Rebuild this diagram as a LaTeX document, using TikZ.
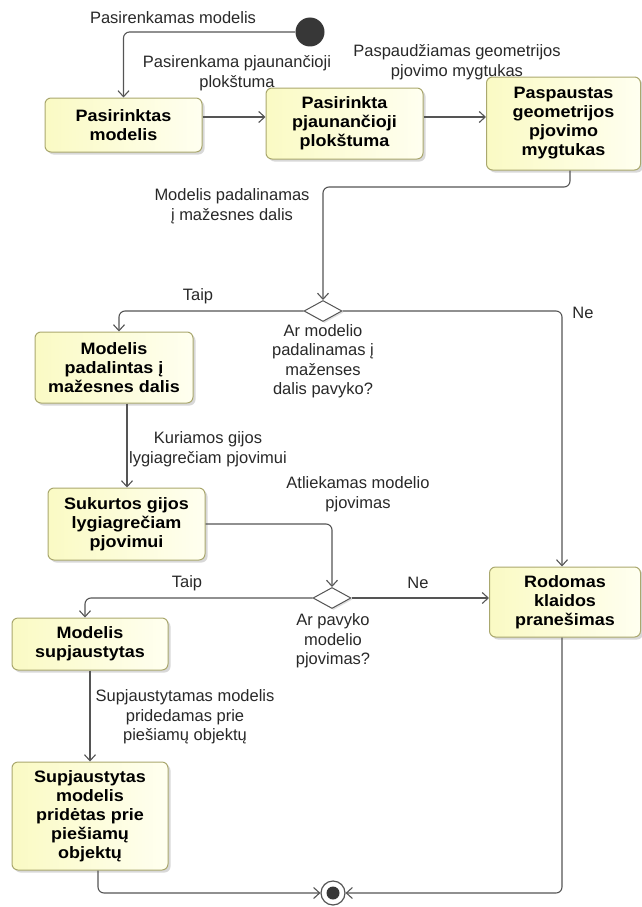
\documentclass[tikz,border=0pt]{standalone}
\usepackage{fontspec}
\setmainfont{Liberation Sans}
\newfontfamily\boxfont{Liberation Sans}[FakeStretch=1.09]
\usetikzlibrary{shapes.geometric,arrows.meta,shadows}

\definecolor{flowline}{RGB}{85,85,85}
\definecolor{boxedge}{RGB}{170,168,110}
\definecolor{boxfillA}{RGB}{250,250,196}
\definecolor{boxfillB}{RGB}{255,255,240}
\definecolor{labeltext}{RGB}{40,40,40}
\definecolor{dotfill}{RGB}{55,55,55}

\tikzset{
  state/.style={rounded corners=6pt, draw=boxedge, line width=1pt,
    left color=boxfillA, right color=boxfillB,
    drop shadow={shadow xshift=2.5pt, shadow yshift=-2.5pt, fill=black!30},
    align=center, inner sep=0pt,
    font=\boxfont\bfseries\fontsize{16.5}{19}\selectfont},
  decision/.style={diamond, draw=flowline, line width=1pt, fill=white,
    minimum width=38pt, minimum height=21pt, inner sep=0pt,
    drop shadow={shadow xshift=1.5pt, shadow yshift=-1.5pt, fill=black!25}},
  startdot/.style={circle, fill=dotfill, minimum size=29pt, inner sep=0pt},
  enddot/.style={circle, draw=flowline, line width=1.2pt, fill=white,
    minimum size=24pt, inner sep=0pt},
  lbl/.style={align=center, inner sep=0pt, text=labeltext,
    font=\fontsize{16.5}{19.5}\selectfont},
  flow/.style={draw=flowline, line width=1.1pt, rounded corners=6pt,
    -{Straight Barb[length=6pt,width=11pt]}}
}

\begin{document}
\begin{tikzpicture}[x=1pt,y=-1pt]
\useasboundingbox (0,0) rectangle (641,907);

% activity states
\node[startdot] (start) at (310,32) {};
\node[state, minimum width=157pt, minimum height=54pt] (b1) at (123.5,125) {Pasirinktas\\modelis};
\node[state, minimum width=157pt, minimum height=71pt] (b2) at (344.5,123.5) {Pasirinkta\\pjaunančioji\\plokštuma};
\node[state, minimum width=154pt, minimum height=93pt] (b3) at (563.5,123.5) {Paspaustas\\geometrijos\\pjovimo\\mygtukas};
\node[decision] (d1) at (323,311) {};
\node[state, minimum width=158pt, minimum height=71pt] (b4) at (114,367.5) {Modelis\\padalintas į\\mažesnes dalis};
\node[state, minimum width=157pt, minimum height=72pt] (b5) at (126.5,524) {Sukurtos gijos\\lygiagrečiam\\pjovimui};
\node[decision] (d2) at (332,598) {};
\node[state, minimum width=151pt, minimum height=70pt] (b7) at (565,602) {Rodomas\\klaidos\\pranešimas};
\node[state, minimum width=156pt, minimum height=52pt] (b6) at (90,644) {Modelis\\supjaustytas};
\node[state, minimum width=156pt, minimum height=108pt] (b8) at (90,816) {Supjaustytas\\modelis\\pridėtas prie\\piešiamų\\objektų};
\node[enddot] (end) at (333,893) {};
\fill[dotfill] (end) circle (6.5pt);

% routing helpers
\coordinate (r117) at (0,117);
\coordinate (k1) at (570,187);
\coordinate (c127) at (127,0);

% transitions
\draw[flow] (start.west) -| (b1.north);
\draw[flow] (b1.east |- r117) -- (b2.west |- r117);
\draw[flow] (b2.east |- r117) -- (b3.west |- r117);
\draw[flow] (b3.south -| k1) |- (d1.north |- k1) -- (d1.north);
\draw[flow] (d1.west) -| ([xshift=5pt]b4.north);
\draw[flow] (d1.east) -| ([xshift=-3pt]b7.north);
\draw[flow] (b4.south -| c127) -- (b5.north -| c127);
\draw[flow] (b5.east) -| (d2.north);
\draw[flow] (d2.west) -| ([xshift=-5pt]b6.north);
\draw[flow] (d2.east) -- (b7.west |- d2.east);
\draw[flow] (b6.south) -- (b8.north);
\draw[flow] ([xshift=8pt]b8.south) |- (end.west);
\draw[flow] ([xshift=-3pt]b7.south) |- (end.east);

% transition labels
\node[lbl] (l0) at (173,18) {Pasirenkamas modelis};
\node[lbl] (l1) at (237,73) {Pasirenkama pjaunančioji\\plokštuma};
\node[lbl] (l2) at (457,62) {Paspaudžiamas geometrijos\\pjovimo mygtukas};
\node[lbl] (l3) at (232,206) {Modelis padalinamas\\į mažesnes dalis};
\node[lbl] (l4) at (198,296) {Taip};
\node[lbl] (l5) at (583,313) {Ne};
\node[lbl] (l6) at (323,361) {Ar modelio\\padalinamas į\\maženses\\dalis pavyko?};
\node[lbl] (l7) at (208,449) {Kuriamos gijos\\lygiagrečiam pjovimui};
\node[lbl] (l8) at (358,494) {Atliekamas modelio\\pjovimas};
\node[lbl] (l9) at (187,583) {Taip};
\node[lbl] (l10) at (418,583) {Ne};
\node[lbl] (l11) at (333,641) {Ar pavyko\\modelio\\pjovimas?};
\node[lbl] (l12) at (185,717) {Supjaustytamas modelis\\pridedamas prie\\piešiamų objektų};
\end{tikzpicture}
\end{document}
